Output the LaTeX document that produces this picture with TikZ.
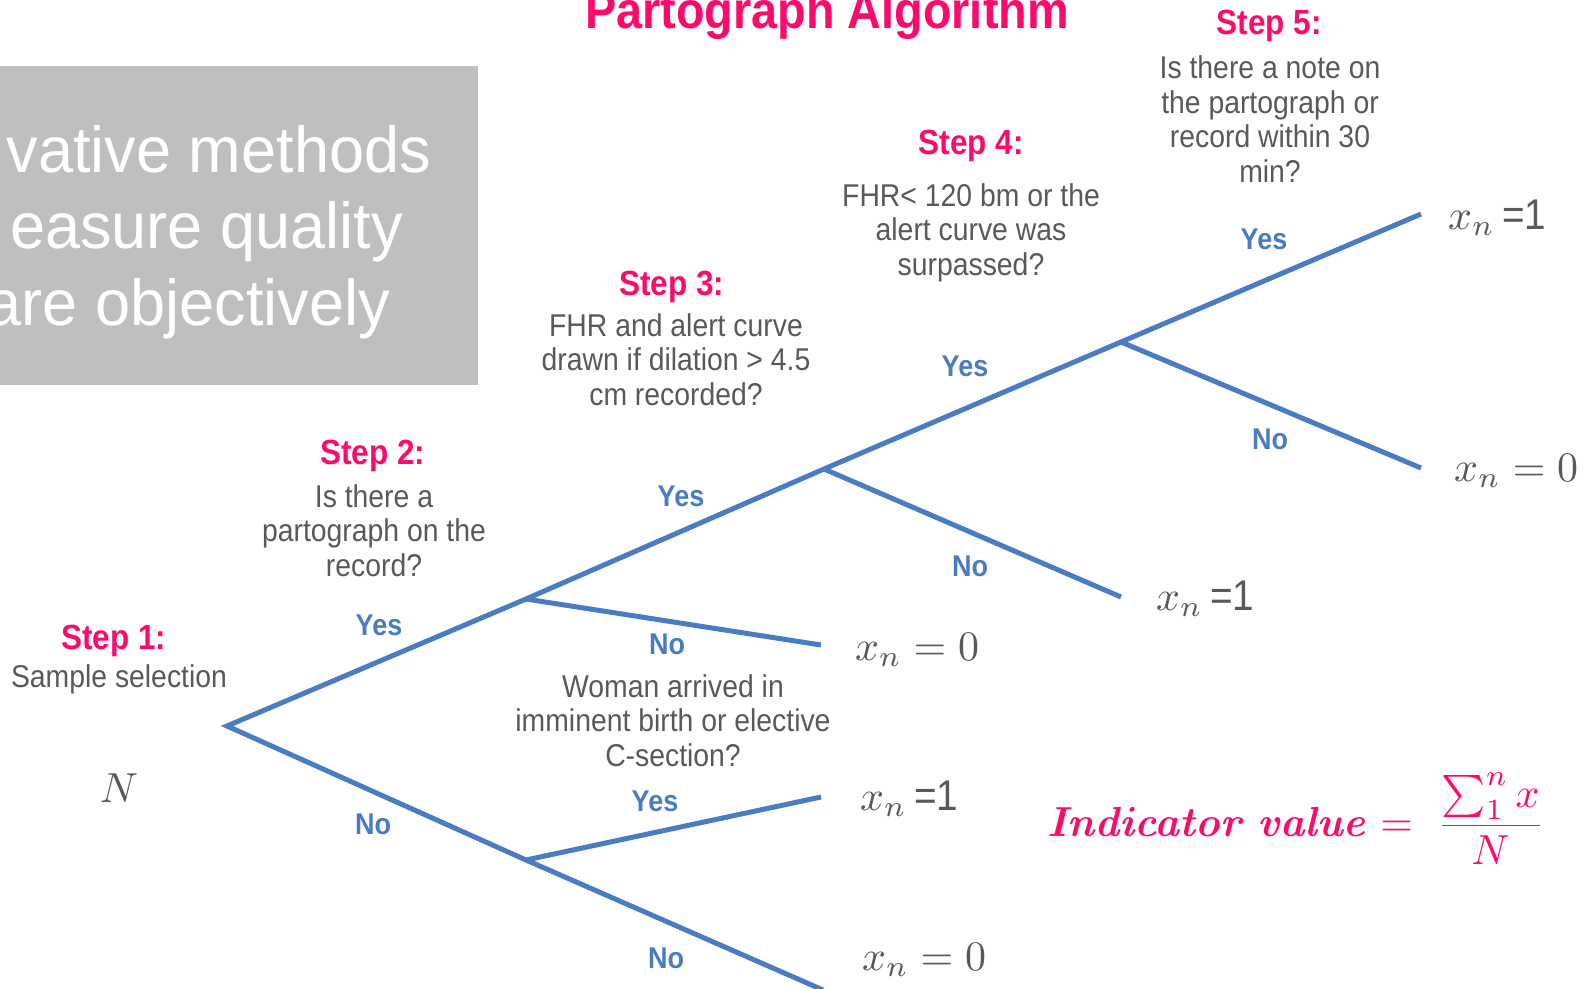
\documentclass[tikz,border=0pt]{standalone}
\usepackage{graphicx}
\usepackage[no-math]{fontspec}
\setmainfont{Liberation Sans}
\newfontfamily\nar[FakeStretch=0.9]{Liberation Sans}
\newfontfamily\boxfont[FakeStretch=0.97]{Liberation Sans}
\definecolor{mypink}{HTML}{FF0A6C}
\definecolor{treeblue}{HTML}{4A7CC2}
\definecolor{qgray}{HTML}{595959}
\definecolor{boxgray}{HTML}{BFBFBF}
\newcommand{\mymath}[1]{\scalebox{4.2}{\fontsize{10}{12}\selectfont#1}}
\tikzset{
  branch/.style={draw=treeblue, line width=5pt, line join=miter},
  stephead/.style={text=mypink, font=\nar\bfseries\fontsize{35}{40}\selectfont, anchor=base, inner sep=0pt},
  question/.style={text=qgray, font=\nar\fontsize{31.5}{34.4}\selectfont, align=center, anchor=base, inner sep=0pt},
  answer/.style={text=treeblue, font=\nar\bfseries\fontsize{30}{30}\selectfont, inner sep=0pt},
  outcome/.style={text=qgray, font=\nar\fontsize{43}{43}\selectfont, anchor=base west, inner sep=0pt},
  boxtext/.style={text=white, font=\boxfont\fontsize{65}{70}\selectfont, anchor=base east, inner sep=0pt},
}
\begin{document}
\begin{tikzpicture}[x=1pt, y=-1pt]
\useasboundingbox (0,0) rectangle (1586,988);
% grey panel
\fill[boxgray] (0,66) rectangle (478,385);
\node[boxtext] (b1) at (431,172) {vative methods};
\node[boxtext] (b2) at (403,248) {easure quality};
\node[boxtext] (b3) at (390,325) {are objectively};
% title
\node[text=mypink, font=\nar\bfseries\fontsize{52}{52}\selectfont, anchor=base, inner sep=0pt] (title) at (827,28) {Partograph Algorithm};
% tree points
\coordinate (R) at (227,726);
\coordinate (A) at (526,599);
\coordinate (Ano) at (821,645);
\coordinate (B) at (526,860);
\coordinate (Byes) at (821,797);
\coordinate (Bno) at (823,990);
\coordinate (C) at (824,469);
\coordinate (Cno) at (1121,597);
\coordinate (D) at (1121,342);
\coordinate (Dyes) at (1421,214);
\coordinate (Dno) at (1421,468);
\draw[branch] (Bno) -- (B) -- (R) -- (A) -- (C) -- (D) -- (Dyes);
\draw[branch] (A) -- (Ano);
\draw[branch] (B) -- (Byes);
\draw[branch] (C) -- (Cno);
\draw[branch] (D) -- (Dno);
% steps (question nodes anchored at the baseline of their last line)
\node[stephead] (s1) at (114,649) {Step 1:};
\node[question] (q1) at (119,687) {Sample selection};
\node[stephead] (s2) at (373,464) {Step 2:};
\node[question] (q2) at (374,576) {Is there a\\partograph on the\\record?};
\node[stephead] (s3) at (672,295) {Step 3:};
\node[question] (q3) at (676,405) {FHR and alert curve\\drawn if dilation > 4.5\\cm recorded?};
\node[stephead] (s4) at (971,154) {Step 4:};
\node[question] (q4) at (971,275) {FHR< 120 bm or the\\alert curve was\\surpassed?};
\node[stephead] (s5) at (1269,34) {Step 5:};
\node[question] (q5) at (1270,182) {Is there a note on\\the partograph or\\record within 30\\min?};
\node[question] (qw) at (673,766) {Woman arrived in\\imminent birth or elective\\C-section?};
% N
\node[text=qgray, inner sep=0pt] (N) at (119,788) {\mymath{$N$}};
% answers
\node[answer] (a1) at (379,625) {Yes};
\node[answer] (a2) at (373,824) {No};
\node[answer] (a3) at (681,496) {Yes};
\node[answer] (a4) at (667,644) {No};
\node[answer] (a5) at (655,801) {Yes};
\node[answer] (a6) at (666,958) {No};
\node[answer] (a7) at (965,366) {Yes};
\node[answer] (a8) at (970,566) {No};
\node[answer] (a9) at (1264,239) {Yes};
\node[answer] (a10) at (1270,439) {No};
% outcomes
\node[outcome] (o1) at (1448,229) {\mymath{$x_n$}\,=1};
\node[outcome] (o2) at (1454,481) {\mymath{$x_n=0$}};
\node[outcome] (o3) at (1156,610) {\mymath{$x_n$}\,=1};
\node[outcome] (o4) at (855,660) {\mymath{$x_n=0$}};
\node[outcome] (o5) at (860,810) {\mymath{$x_n$}\,=1};
\node[outcome] (o6) at (862,970) {\mymath{$x_n=0$}};
% indicator
\node[text=mypink, anchor=base west, inner sep=0pt] (ind) at (1047,836)
  {\mymath{{\boldmath$\mathit{Indicator\ value}$}$\;=\;\displaystyle\frac{\sum_1^n x}{N}$}};
\end{tikzpicture}
\end{document}
